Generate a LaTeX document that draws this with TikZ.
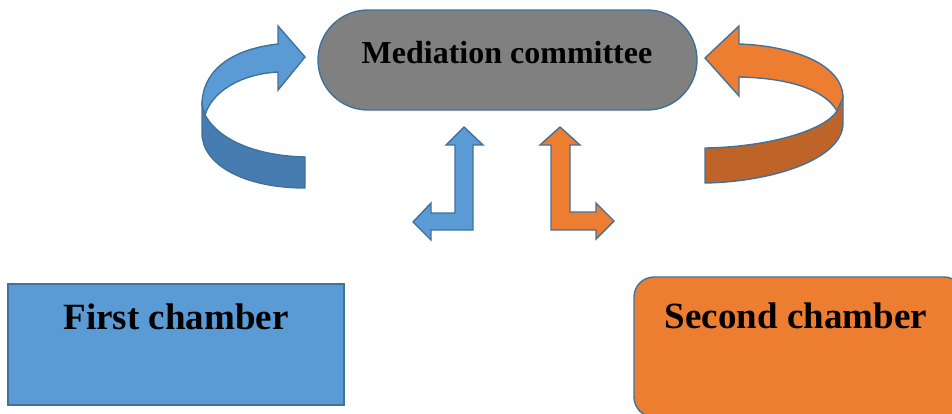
\documentclass[tikz,border=0pt]{standalone}
\usepackage{fontspec}
\setmainfont{Liberation Serif}
\definecolor{bordblue}{HTML}{41719C}
\definecolor{medgray}{HTML}{808080}
\definecolor{lblue}{HTML}{5B9BD5}
\definecolor{dblue}{HTML}{477CB0}
\definecolor{lorange}{HTML}{ED7D31}
\definecolor{dorange}{HTML}{BE6428}
\begin{document}
\begin{tikzpicture}[x=1pt,y=-1pt]
	\tikzstyle{outline} = [draw=bordblue, line width=1.4pt, line join=miter]
	\tikzstyle{medbox} = [outline, fill=medgray, rectangle, rounded corners=50pt, minimum width=379pt, minimum height=100pt]
	\tikzstyle{chamber} = [outline, rectangle, minimum height=121pt]
	\tikzstyle{title} = [anchor=base, font={\bfseries}]
	\clip (0,0) rectangle (952,413);
	\node[medbox] (med) at (507.5,60) {};
	\node[title] (medtxt) at (507,63) {\fontsize{32}{36}\selectfont Mediation committee};
	\node[chamber, fill=lblue, minimum width=336pt] (ch1) at (176,344.5) {};
	\node[title] (ch1txt) at (176,329) {\fontsize{37}{40}\selectfont First chamber};
	\node[chamber, fill=lorange, rounded corners=20pt, minimum width=330pt, minimum height=140pt] (ch2) at (799,347) {};
	\node[title] (ch2txt) at (796,328) {\fontsize{37}{40}\selectfont Second chamber};
	% curved arrows
	\draw[outline, fill=lblue] (278,44) .. controls (225,50) and (202,75) .. (202,105) -- (205,115)
		.. controls (212,92) and (240,74) .. (278,72) -- (278,90) -- (305,57) -- (278,26) -- cycle;
	\draw[outline, fill=dblue] (202,105) -- (205,115) .. controls (220,142) and (260,156) .. (305,157)
		-- (305,188) .. controls (245,188) and (202,165) .. (202,133) -- cycle;
	\draw[outline, fill=lorange] (739,44) .. controls (795,46) and (843,65) .. (843,98) -- (837,111)
		.. controls (825,90) and (790,78) .. (739,77) -- (739,96) -- (705,58) -- (739,26) -- cycle;
	\draw[outline, fill=dorange] (843,98) -- (837,111) .. controls (825,130) and (770,147) .. (705,148)
		-- (705,183) .. controls (770,182) and (843,160) .. (843,123) -- cycle;
	% bent arrows
	\draw[outline, fill=lblue] (464,127) -- (483,145) -- (473,145) -- (473,230) -- (431,230) -- (431,240)
		-- (413,222) -- (431,203) -- (431,213) -- (455,213) -- (455,145) -- (446,145) -- cycle;
	\draw[outline, fill=lorange] (560,127) -- (580,145) -- (570,145) -- (570,212) -- (596,212) -- (596,203)
		-- (614,221) -- (596,239) -- (596,230) -- (551,230) -- (551,145) -- (540,145) -- cycle;
\end{tikzpicture}
\end{document}
